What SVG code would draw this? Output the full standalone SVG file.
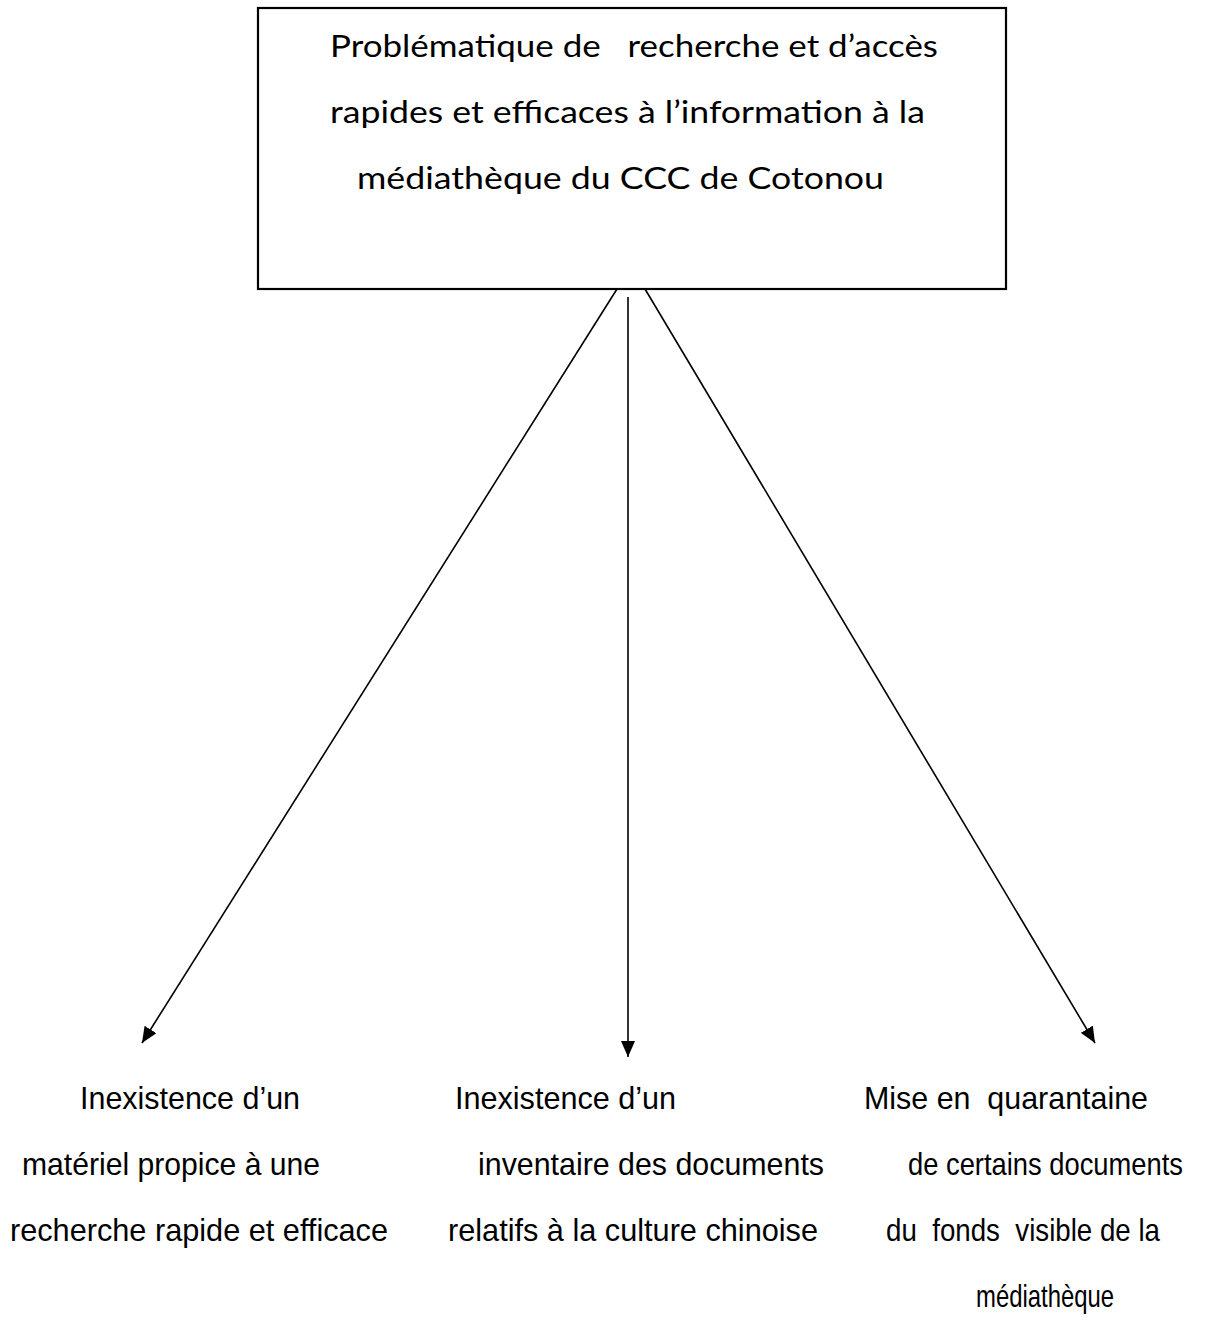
<svg xmlns="http://www.w3.org/2000/svg" width="1224" height="1334" viewBox="0 0 1224 1334">
<style>
.box{fill:#fff;stroke:#000;stroke-width:2.2}
.t{font-family:"Lato","Open Sans",sans-serif;font-size:30px;fill:#000}
.b{font-family:"Liberation Sans",Arial,sans-serif;font-size:32px;fill:#000}
.c{stroke:#000;stroke-width:1.6;fill:none}
</style>
<defs>
<marker id="ah" viewBox="0 0 16 14" refX="16" refY="7" markerWidth="16" markerHeight="14" markerUnits="userSpaceOnUse" orient="auto"><path d="M0,0 L16,7 L0,14 z" fill="#000"/></marker>
</defs>
<rect width="1224" height="1334" fill="#fff"/>
<g id="node-top">
<rect class="box" x="258" y="8" width="748" height="281"/>
<text class="t" x="330" y="57" textLength="608" lengthAdjust="spacingAndGlyphs" xml:space="preserve">Problématique de   recherche et d’accès</text>
<text class="t" x="330" y="123" textLength="595" lengthAdjust="spacingAndGlyphs">rapides et efficaces à l’information à la</text>
<text class="t" x="357" y="189" textLength="527" lengthAdjust="spacingAndGlyphs">médiathèque du CCC de Cotonou</text>
</g>
<g id="connectors">
<line class="c" x1="617" y1="289" x2="142" y2="1043" marker-end="url(#ah)"/>
<line class="c" x1="628" y1="297" x2="628" y2="1057" marker-end="url(#ah)"/>
<line class="c" x1="645" y1="289" x2="1095" y2="1043" marker-end="url(#ah)"/>
</g>
<g id="node-left">
<text class="b" x="80" y="1109" textLength="220" lengthAdjust="spacingAndGlyphs">Inexistence d’un</text>
<text class="b" x="22" y="1175" textLength="298" lengthAdjust="spacingAndGlyphs">matériel propice à une</text>
<text class="b" x="10" y="1241" textLength="378" lengthAdjust="spacingAndGlyphs">recherche rapide et efficace</text>
</g>
<g id="node-middle">
<text class="b" x="455" y="1109" textLength="221" lengthAdjust="spacingAndGlyphs">Inexistence d’un</text>
<text class="b" x="478" y="1175" textLength="346" lengthAdjust="spacingAndGlyphs">inventaire des documents</text>
<text class="b" x="448" y="1241" textLength="370" lengthAdjust="spacingAndGlyphs">relatifs à la culture chinoise</text>
</g>
<g id="node-right">
<text class="b" x="864" y="1109" textLength="284" lengthAdjust="spacingAndGlyphs" xml:space="preserve">Mise en  quarantaine</text>
<text class="b" x="908" y="1175" textLength="275" lengthAdjust="spacingAndGlyphs">de certains documents</text>
<text class="b" x="886" y="1241" textLength="274" lengthAdjust="spacingAndGlyphs" xml:space="preserve">du  fonds  visible de la</text>
<text class="b" x="976" y="1307" textLength="138" lengthAdjust="spacingAndGlyphs">médiathèque</text>
</g>
</svg>
